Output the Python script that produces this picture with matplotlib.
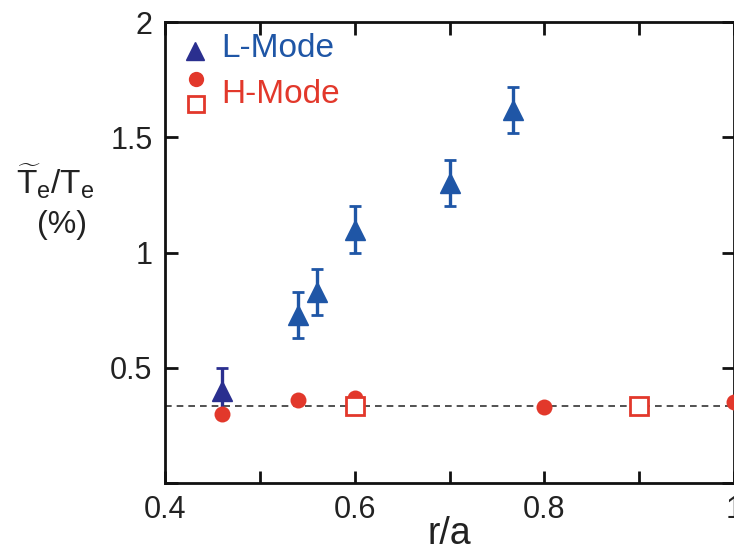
import matplotlib
matplotlib.use("Agg")
import matplotlib.pyplot as plt
import numpy as np

plt.rcParams['font.family'] = ['Liberation Sans', 'DejaVu Sans']
plt.rcParams['mathtext.fontset'] = 'custom'
plt.rcParams['mathtext.rm'] = 'Liberation Sans'
plt.rcParams['mathtext.it'] = 'Liberation Sans'

# L-Mode data
l_x = [0.46, 0.54, 0.56, 0.60, 0.70, 0.767]
l_y = [0.40, 0.73, 0.83, 1.10, 1.30, 1.62]
l_err = [0.10, 0.10, 0.10, 0.10, 0.10, 0.10]

# H-Mode data (circles)
hc_x = [0.46, 0.54, 0.60, 0.80, 1.00]
hc_y = [0.30, 0.36, 0.37, 0.33, 0.35]
# H-Mode data (squares)
hs_x = [0.60, 0.90]
hs_y = [0.335, 0.335]

ref_level = 0.335

blue = '#1f56a6'
navy = '#2a2f8f'
red = '#e2382b'

fig = plt.figure(figsize=(7.34, 5.53), dpi=100)
ax = fig.add_axes([0.2248, 0.1266, 0.7752, 0.8334])

ax.axhline(ref_level, color='#333333', lw=1.2, ls=(0, (4, 3)), zorder=1)

for i, (x, y, e) in enumerate(zip(l_x, l_y, l_err)):
    c = navy if i == 0 else blue
    ax.errorbar([x], [y], yerr=[e], fmt='^', color=c, ms=15, elinewidth=2.4,
                capsize=4, capthick=2, mec=c, zorder=3)

ax.plot(hc_x, hc_y, 'o', color=red, ms=11.5, mec='none', zorder=4, clip_on=False)
ax.plot(hs_x, hs_y, 's', mfc='white', mec=red, mew=2, ms=13, zorder=5)

ax.set_xlim(0.4, 1.0)
ax.set_ylim(0, 2)
ax.set_xticks(np.arange(0.4, 1.01, 0.1))
ax.set_xticklabels(['0.4', '', '0.6', '', '0.8', '', '1'])
ax.set_yticks([0, 0.5, 1, 1.5, 2])
ax.set_yticklabels(['', '0.5', '1', '1.5', '2'])
ax.tick_params(direction='in', length=9, width=2, top=True, right=True,
               labelsize=22, pad=9, color='#111111', labelcolor='#222222')
for s in ax.spines.values():
    s.set_linewidth(2)
    s.set_color('#111111')

ax.set_xlabel('r/a', fontsize=27, labelpad=-7, color='#222222')

fig.text(0.076, 0.672, r'$\widetilde{\mathrm{T}}_{\mathrm{e}}/\mathrm{T}_{\mathrm{e}}$',
         fontsize=24, ha='center', va='center', color='#222222')
fig.text(0.084, 0.593, '(%)', fontsize=23, ha='center', va='center', color='#222222')

# legend
ax.plot([0.053], [0.937], '^', color=navy, ms=13, transform=ax.transAxes, clip_on=False)
ax.text(0.098, 0.942, 'L-Mode', transform=ax.transAxes, color=blue, fontsize=24,
        va='center', ha='left')
ax.plot([0.055], [0.876], 'o', color=red, ms=11, mec='none', transform=ax.transAxes)
ax.plot([0.055], [0.823], 's', mfc='white', mec=red, mew=2, ms=11, transform=ax.transAxes)
ax.text(0.098, 0.842, 'H-Mode', transform=ax.transAxes, color=red, fontsize=24,
        va='center', ha='left')

fig.savefig('out.png', dpi=100)
